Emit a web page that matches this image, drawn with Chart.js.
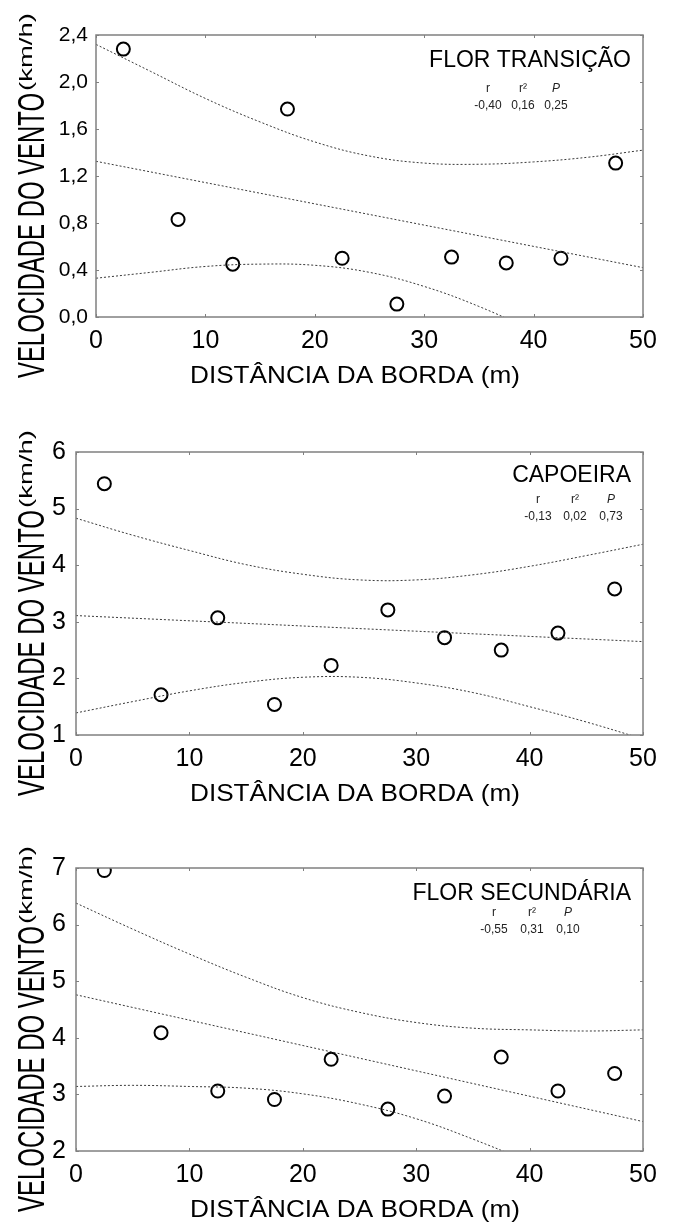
<!DOCTYPE html>
<html><head><meta charset="utf-8">
<script src="https://cdn.jsdelivr.net/npm/chart.js@4.4.1/dist/chart.umd.min.js"></script>
<style>
html,body{margin:0;padding:0;background:#fff;}
.panel{position:absolute;left:0;width:675px;}
canvas{display:block;}
</style></head><body>
<div class="panel" style="top:0;height:408px"><canvas id="c1" width="675" height="408"></canvas></div>
<div class="panel" style="top:408px;height:408px"><canvas id="c2" width="675" height="408"></canvas></div>
<div class="panel" style="top:816px;height:406px"><canvas id="c3" width="675" height="406"></canvas></div>
<script>
// ---------- data ----------
const distance = [2.5, 7.5, 12.5, 17.5, 22.5, 27.5, 32.5, 37.5, 42.5, 47.5];
const xTicks = [0, 10, 20, 30, 40, 50];
const bandX = [0, 5, 10, 15, 20, 25, 30, 35, 40, 45, 50];
const fitX = [0, 50];
const statHeaders = ['r', 'r²', 'P'];
const xTitle = 'DISTÂNCIA DA BORDA (m)';
const yTitleMain = 'VELOCIDADE DO VENTO';
const yTitleUnit = '(km/h)';

const windTransicao = [2.28, 0.83, 0.45, 1.77, 0.50, 0.11, 0.51, 0.46, 0.50, 1.31];
const fitTransicao = [1.325, 0.42];
const upperTransicao = [2.32, 2.09, 1.86, 1.66, 1.49, 1.37, 1.31, 1.30, 1.32, 1.36, 1.42];
const lowerTransicao = [0.33, 0.38, 0.43, 0.45, 0.44, 0.38, 0.26, 0.09, -0.12, -0.34, -0.58];
const yTicksTransicao = [0, 0.4, 0.8, 1.2, 1.6, 2.0, 2.4];
const statsTransicao = ['-0,40', '0,16', '0,25'];

const windCapoeira = [5.44, 1.71, 3.07, 1.54, 2.23, 3.21, 2.72, 2.50, 2.80, 3.58];
const fitCapoeira = [3.11, 2.65];
const upperCapoeira = [4.83, 4.53, 4.26, 4.01, 3.84, 3.74, 3.74, 3.83, 3.98, 4.17, 4.37];
const lowerCapoeira = [1.39, 1.59, 1.78, 1.93, 2.02, 2.02, 1.92, 1.75, 1.50, 1.23, 0.93];
const yTicksCapoeira = [1, 2, 3, 4, 5, 6];
const statsCapoeira = ['-0,13', '0,02', '0,73'];

const windSecundaria = [6.955, 4.09, 3.06, 2.91, 3.62, 2.74, 2.97, 3.66, 3.06, 3.37];
const fitSecundaria = [4.76, 2.52];
const upperSecundaria = [6.38, 5.92, 5.48, 5.07, 4.71, 4.45, 4.27, 4.17, 4.14, 4.12, 4.14];
const lowerSecundaria = [3.14, 3.16, 3.14, 3.11, 3.01, 2.83, 2.57, 2.21, 1.80, 1.36, 0.90];
const yTicksSecundaria = [2, 3, 4, 5, 6, 7];
const statsSecundaria = ['-0,55', '0,31', '0,10'];

// ---------- drawing ----------
const FAM = "'Liberation Sans', Arial, sans-serif";

function fitText(ctx, text, font, targetW) {
  ctx.font = font;
  return targetW / ctx.measureText(text).width;
}

function panelPlugin(cfg) {
  return {
    id: 'panelDeco',
    beforeDraw(chart) {
      const ctx = chart.ctx;
      ctx.save(); ctx.fillStyle = '#fff'; ctx.fillRect(0, 0, chart.width, chart.height); ctx.restore();
    },
    afterDraw(chart) {
      const ctx = chart.ctx;
      const a = chart.chartArea;
      const xs = chart.scales.x, ys = chart.scales.y;
      ctx.save();
      // frame
      ctx.strokeStyle = '#808080';
      ctx.lineWidth = 1.5;
      ctx.strokeRect(a.left, a.top, a.right - a.left, a.bottom - a.top);
      // small inner ticks
      ctx.lineWidth = 1;
      ctx.beginPath();
      xTicks.forEach(v => {
        const px = Math.round(xs.getPixelForValue(v)) + 0.5;
        ctx.moveTo(px, a.top); ctx.lineTo(px, a.top + 3);
        ctx.moveTo(px, a.bottom); ctx.lineTo(px, a.bottom - 3);
      });
      cfg.yTicks.forEach(v => {
        const py = Math.round(ys.getPixelForValue(v)) + 0.5;
        ctx.moveTo(a.left, py); ctx.lineTo(a.left + 3, py);
        ctx.moveTo(a.right, py); ctx.lineTo(a.right - 3, py);
      });
      ctx.stroke();

      ctx.fillStyle = '#000';
      // panel name
      ctx.font = '23px ' + FAM;
      ctx.textAlign = 'right'; ctx.textBaseline = 'alphabetic';
      ctx.fillText(cfg.name, a.right - 12, a.top + cfg.nameDy);
      // stats
      ctx.fillStyle = '#222';
      ctx.textAlign = 'center'; ctx.textBaseline = 'middle';
      statHeaders.forEach((h, i) => {
        ctx.font = (i === 2 ? 'italic ' : '') + '12px ' + FAM;
        ctx.fillText(h, cfg.statX[i], a.top + cfg.statDy);
        ctx.font = '12px ' + FAM;
        ctx.fillText(cfg.stats[i], cfg.statX[i], a.top + cfg.statDy + 17);
      });
      ctx.fillStyle = '#000';
      // x title
      ctx.textAlign = 'left'; ctx.textBaseline = 'alphabetic';
      const xf = '24px ' + FAM;
      const sx = fitText(ctx, xTitle, xf, 330);
      ctx.save();
      ctx.translate(190, a.bottom + 66);
      ctx.scale(sx, 1);
      ctx.font = xf;
      ctx.fillText(xTitle, 0, 0);
      ctx.restore();
      // y title (rotated)
      const yf = '37px ' + FAM;
      const startY = a.bottom + 61, endY = a.top + 58;
      const sy = fitText(ctx, yTitleMain, yf, startY - endY);
      ctx.save();
      ctx.translate(44, startY);
      ctx.rotate(-Math.PI / 2);
      ctx.scale(sy, 1);
      ctx.font = yf;
      ctx.fillText(yTitleMain, 0, 0);
      ctx.restore();
      const uf = '18px ' + FAM;
      const su = fitText(ctx, yTitleUnit, uf, 78);
      ctx.save();
      ctx.translate(32, a.top + 56);
      ctx.rotate(-Math.PI / 2);
      ctx.scale(su, 1);
      ctx.font = uf;
      ctx.fillText(yTitleUnit, 0, 0);
      ctx.restore();
      ctx.restore();
    }
  };
}

function makePanel(id, cfg) {
  const canvas = document.getElementById(id);
  const H = canvas.height;
  const area = cfg.area;
  const dotted = {
    showLine: true, borderColor: '#3a3a3a', borderWidth: 1, borderDash: [2, 2],
    pointRadius: 0, pointHoverRadius: 0, fill: false, tension: 0.4, clip: 0
  };
  new Chart(canvas, {
    type: 'scatter',
    data: {
      datasets: [
        Object.assign({ label: 'upper', data: bandX.map((x, i) => ({ x, y: cfg.upper[i] })) }, dotted),
        Object.assign({ label: 'lower', data: bandX.map((x, i) => ({ x, y: cfg.lower[i] })) }, dotted),
        Object.assign({ label: 'fit', data: fitX.map((x, i) => ({ x, y: cfg.fit[i] })) }, dotted, { tension: 0 }),
        {
          label: 'obs', data: distance.map((x, i) => ({ x, y: cfg.wind[i] })),
          showLine: false, pointStyle: 'circle', pointRadius: 6.5, pointBorderWidth: 2,
          pointBorderColor: '#000', pointBackgroundColor: 'rgba(255,255,255,0)', clip: 0
        }
      ]
    },
    options: {
      responsive: false, animation: false, devicePixelRatio: 1,
      layout: { padding: { left: 0, right: 675 - area.right, top: area.top, bottom: 0 } },
      plugins: { legend: { display: false }, tooltip: { enabled: false } },
      scales: {
        x: {
          type: 'linear', min: 0, max: 50,
          afterBuildTicks: s => { s.ticks = xTicks.map(v => ({ value: v })); },
          afterFit: s => { s.height = H - area.bottom; },
          grid: { display: false, drawTicks: false }, border: { display: false },
          ticks: { padding: 9, color: '#000', autoSkip: false, maxRotation: 0, font: { family: FAM, size: 25 } }
        },
        y: {
          type: 'linear', min: cfg.yTicks[0], max: cfg.yTicks[cfg.yTicks.length - 1],
          afterBuildTicks: s => { s.ticks = cfg.yTicks.map(v => ({ value: v })); },
          afterFit: s => { s.width = area.left; },
          grid: { display: false, drawTicks: false }, border: { display: false },
          ticks: {
            padding: cfg.yPad, color: '#000', autoSkip: false,
            font: { family: FAM, size: cfg.yFont },
            callback: v => cfg.decimals ? v.toFixed(1).replace('.', ',') : String(v)
          }
        }
      }
    },
    plugins: [panelPlugin(cfg)]
  });
}

makePanel('c1', {
  area: { left: 96, right: 643, top: 35, bottom: 317 },
  wind: windTransicao, fit: fitTransicao, upper: upperTransicao, lower: lowerTransicao,
  yTicks: yTicksTransicao, decimals: true, yFont: 21, yPad: 8,
  name: 'FLOR TRANSIÇÃO', nameDy: 32, stats: statsTransicao, statX: [488, 523, 556], statDy: 54
});
makePanel('c2', {
  area: { left: 76, right: 643, top: 44, bottom: 327 },
  wind: windCapoeira, fit: fitCapoeira, upper: upperCapoeira, lower: lowerCapoeira,
  yTicks: yTicksCapoeira, decimals: false, yFont: 25, yPad: 10,
  name: 'CAPOEIRA', nameDy: 30, stats: statsCapoeira, statX: [538, 575, 611], statDy: 48
});
makePanel('c3', {
  area: { left: 76, right: 643, top: 52, bottom: 335 },
  wind: windSecundaria, fit: fitSecundaria, upper: upperSecundaria, lower: lowerSecundaria,
  yTicks: yTicksSecundaria, decimals: false, yFont: 25, yPad: 10,
  name: 'FLOR SECUNDÁRIA', nameDy: 32, stats: statsSecundaria, statX: [494, 532, 568], statDy: 45
});
</script>
</body></html>
